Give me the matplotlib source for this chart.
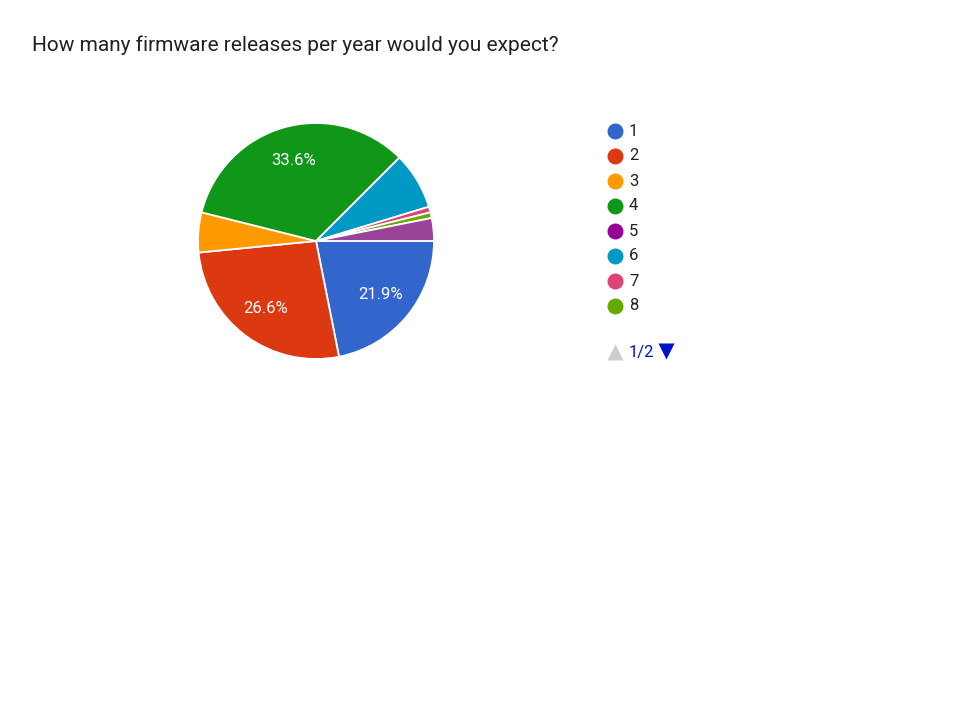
import matplotlib.pyplot as plt

plt.rcParams['font.family'] = ['Roboto', 'DejaVu Sans']

title = "How many firmware releases per year would you expect?"
categories = ['1', '2', '3', '4', '5', '6', '7', '8', 'other']
counts = [28, 34, 7, 43, 0, 10, 1, 1, 4]
colors = ['#3366cc', '#dc3912', '#ff9900', '#109618', '#990099',
          '#0099c6', '#dd4477', '#66aa00', '#994499']
legend_items = categories[:8]
page_text = '1/2'

W, H = 960, 720
fig = plt.figure(figsize=(W / 100, H / 100), dpi=100)

# pie axes: center (316, 241), radius 118 px
cx, cy, r = 316, 241, 118
ax = fig.add_axes([(cx - r) / W, 1 - (cy + r) / H, 2 * r / W, 2 * r / H])


def fmt(p):
    return f'{p:.1f}%' if p > 15 else ''


wedges, texts, autotexts = ax.pie(
    counts, colors=colors, startangle=0, counterclock=False,
    autopct=fmt, pctdistance=0.71, radius=1,
    wedgeprops=dict(edgecolor='white', linewidth=1.3))
for t in autotexts:
    t.set_color('white')
    t.set_fontsize(12)
ax.set_xlim(-1, 1)
ax.set_ylim(-1, 1)
ax.set_aspect('equal')
ax.axis('off')

# overlay in pixel coords for title and legend
ov = fig.add_axes([0, 0, 1, 1])
ov.set_xlim(0, W)
ov.set_ylim(H, 0)
ov.axis('off')
ov.set_zorder(-1)

ov.text(32, 45, title, fontsize=15, color='#202124', va='center', ha='left')

for i, lab in enumerate(legend_items):
    y = 131 + i * 25
    ov.plot(615, y, 'o', ms=11.5, color=colors[i], mec='none')
    ov.text(629, y, lab, fontsize=12, color='#222222', va='center', ha='left')

ov.plot(615, 352, '^', ms=11, color='#cccccc', mec='none')
ov.text(629, 352, page_text, fontsize=12, color='#0011cc', va='center', ha='left')
ov.plot(666, 351, 'v', ms=12, color='#0011cc', mec='none')

fig.savefig('out.png', dpi=100)
plt.close()
